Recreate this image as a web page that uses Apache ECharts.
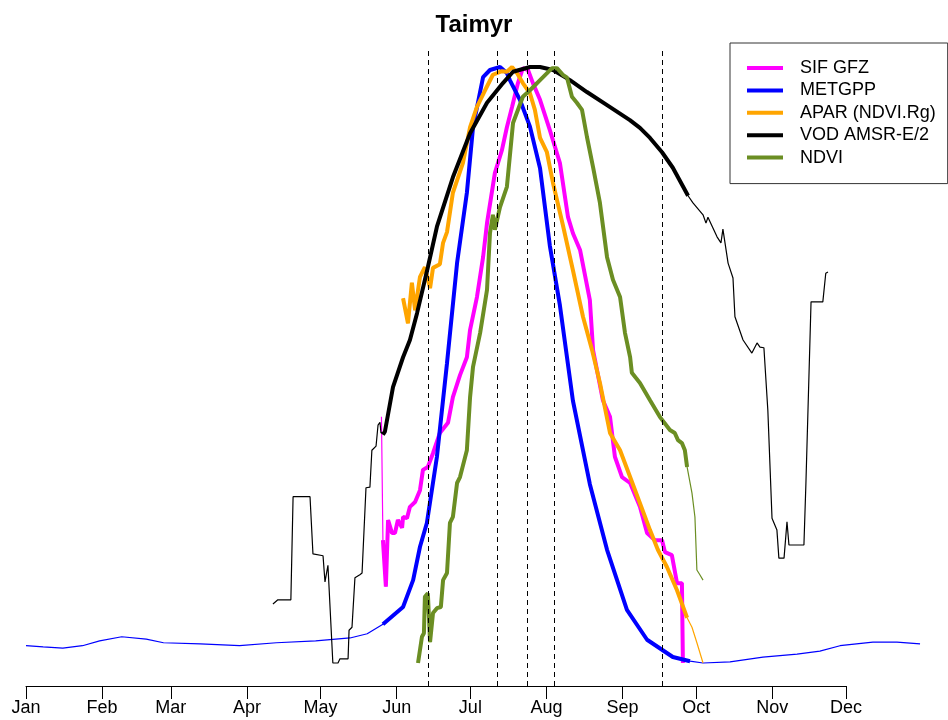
<!DOCTYPE html>
<html lang="en">
<head>
  <meta charset="UTF-8">
  <title>Taimyr</title>
  <script src="https://cdn.jsdelivr.net/npm/echarts@6/dist/echarts.min.js"></script>
  <style>html, body { margin: 0; padding: 0; background: #fff; }</style>
</head>
<body>
  <div id="chart" style="width: 948px; height: 720px;"></div>

  <script>
    // x axis: day of year
    let monthDays = [1, 32, 60, 91, 121, 152, 182, 213, 244, 274, 305, 335]
    let monthNames = ['Jan', 'Feb', 'Mar', 'Apr', 'May', 'Jun', 'Jul', 'Aug', 'Sep', 'Oct', 'Nov', 'Dec']
    let dashDays = [165, 193, 205, 216, 260]
    // growing season drawn with the thick line
    let thickWindow = [146, 271.5]

    // normalised signals, [day, value]
    let sifGfz = [[145.8,0.413],[146.4,0.206],[147.6,0.128],[148.5,0.240],[150.1,0.218],[151.3,0.218],[152.5,0.240],[154.2,0.227],[154.6,0.245],[156.2,0.243],[157.4,0.262],[159.5,0.270],[161.5,0.290],[162.7,0.324],[164.7,0.329],[166.8,0.352],[169.6,0.386],[172.9,0.403],[174.9,0.446],[177.8,0.483],[180.6,0.513],[181.9,0.559],[184.7,0.614],[187.2,0.681],[188.8,0.738],[192,0.822],[194.9,0.861],[196.9,0.899],[199,0.933],[201.4,0.973],[203.4,0.998],[205.5,0.995],[207.5,0.973],[210.4,0.945],[214.4,0.894],[218.5,0.839],[221.8,0.748],[223.8,0.721],[226.7,0.693],[230.7,0.609],[232,0.525],[236,0.441],[238.9,0.413],[240.9,0.346],[243.8,0.312],[247.1,0.302],[251.1,0.262],[254,0.218],[257.2,0.206],[260.1,0.206],[261.3,0.186],[264.1,0.181],[266.2,0.134],[268.2,0.134],[268.6,0]]
    let metGpp = [[1,0.029],[8,0.027],[16,0.025],[24,0.029],[31,0.037],[40,0.044],[50,0.040],[57,0.034],[72,0.032],[88,0.029],[103,0.034],[119,0.037],[133,0.042],[140,0.049],[146.4,0.065],[154.6,0.094],[158.7,0.139],[161.5,0.195],[164.3,0.235],[168.4,0.346],[172.5,0.503],[176.6,0.671],[180.6,0.789],[183.1,0.899],[187.2,0.983],[190,0.995],[194.1,1.0],[196.9,0.990],[198.1,0.978],[202.2,0.945],[206.3,0.90],[210.4,0.83],[214.4,0.70],[218.5,0.60],[223.8,0.44],[230.7,0.30],[237.7,0.19],[245.8,0.089],[254,0.039],[264.5,0.010],[271.5,0.003],[276.8,0],[287.8,0.002],[301.2,0.010],[315.1,0.015],[324.4,0.020],[332.6,0.029],[346,0.035],[355.8,0.035],[365.2,0.032]]
    let aparNdviRg = [[154.6,0.612],[156.6,0.570],[158.2,0.638],[159.5,0.592],[161.5,0.648],[163.5,0.664],[165.6,0.629],[166.8,0.663],[169.6,0.669],[170.9,0.705],[172.5,0.723],[174.9,0.789],[179,0.839],[181.9,0.899],[184.7,0.933],[188,0.961],[191.2,0.987],[194.9,0.993],[196.9,0.992],[199,1.0],[201,0.990],[203.4,0.973],[206.3,0.956],[208.3,0.928],[210.4,0.881],[213.2,0.857],[215.7,0.805],[219.7,0.735],[223.8,0.659],[227.9,0.581],[231.6,0.525],[234.8,0.470],[238.9,0.386],[243,0.357],[247.1,0.312],[251.1,0.268],[255.2,0.223],[258.4,0.190],[262.1,0.161],[266.2,0.122],[270.3,0.076],[272.3,0.060],[274.3,0.034],[276.8,0]]
    let vodAmsr = [[101.6,0.099],[103.6,0.106],[108.9,0.106],[109.8,0.279],[116.7,0.279],[117.9,0.183],[122,0.180],[122.8,0.136],[124,0.164],[124.8,0.163],[126,0],[128.1,0],[128.9,0.007],[132.2,0.007],[132.6,0.055],[133.8,0.060],[135,0.143],[137,0.148],[137.9,0.151],[139.5,0.294],[141.1,0.295],[141.9,0.357],[143.6,0.364],[144.4,0.399],[145.2,0.404],[145.6,0.386],[146.4,0.383],[147.2,0.388],[150.5,0.463],[154.6,0.513],[157.4,0.542],[160.3,0.587],[164.7,0.664],[168.4,0.732],[174.9,0.815],[181.9,0.889],[188.8,0.940],[195.3,0.973],[199.4,0.992],[206.3,1.0],[210.4,1.0],[215.7,0.995],[222.6,0.978],[229.5,0.958],[237.7,0.936],[247,0.911],[251.1,0.898],[255.2,0.881],[260.1,0.857],[264.5,0.831],[270.7,0.784],[272.7,0.772],[276.8,0.752],[278,0.738],[278.8,0.748],[282.5,0.715],[284.1,0.705],[284.9,0.728],[287,0.671],[289,0.646],[289.8,0.581],[293.1,0.542],[296.7,0.520],[298.8,0.537],[300,0.530],[301.6,0.529],[303.2,0.424],[304.9,0.243],[306.9,0.223],[307.7,0.176],[309.8,0.176],[311,0.237],[311.8,0.198],[317.9,0.198],[318.7,0.300],[319.5,0.302],[320.8,0.606],[325.6,0.606],[326.8,0.654],[327.7,0.656]]
    let ndvi = [[160.7,0],[162.3,0.044],[163.1,0.050],[163.5,0.111],[164.7,0.117],[165.6,0.035],[166.8,0.084],[168.4,0.092],[170,0.094],[170.9,0.139],[172.5,0.151],[173.7,0.235],[174.9,0.245],[176.6,0.302],[177.8,0.312],[180.6,0.357],[181.9,0.446],[183.1,0.497],[186,0.554],[188.8,0.626],[190,0.721],[191.2,0.752],[192,0.727],[194.1,0.765],[196.9,0.799],[199.4,0.906],[203.4,0.950],[206.3,0.961],[210.4,0.978],[215.3,0.998],[217.3,0.998],[219.7,0.987],[221.4,0.982],[223.4,0.950],[225.4,0.940],[227.5,0.928],[229.5,0.883],[232,0.832],[234.8,0.772],[237.7,0.681],[240.1,0.643],[243,0.614],[245,0.554],[247.1,0.513],[247.8,0.487],[251.1,0.470],[255.2,0.441],[259.2,0.413],[263.3,0.391],[265.3,0.386],[266.6,0.374],[268.2,0.369],[269.4,0.357],[270.3,0.329],[272.3,0.285],[273.5,0.245],[274.3,0.156],[275.5,0.148],[276.8,0.139]]

    let signals = [
      { name: 'SIF GFZ', color: '#ff00ff', data: sifGfz },
      { name: 'METGPP', color: '#0000ff', data: metGpp },
      { name: 'APAR (NDVI.Rg)', color: '#ffa500', data: aparNdviRg },
      { name: 'VOD AMSR-E/2', color: '#000000', data: vodAmsr },
      { name: 'NDVI', color: '#6b8e23', data: ndvi }
    ]

    let font = '"Liberation Sans", Arial, Helvetica, sans-serif'
    let yMin = -0.0386
    let yMax = 1.0319
    let series = []
    signals.forEach(s => {
      // thin line: the whole record
      series.push({
        name: s.name + ' (all)',
        type: 'line',
        xAxisIndex: 1,
        yAxisIndex: 1,
        data: s.data,
        symbol: 'none',
        color: s.color,
        lineStyle: { color: s.color, width: 1.2 }
      })
      // thick line: growing season only
      series.push({
        name: s.name,
        type: 'line',
        xAxisIndex: 1,
        yAxisIndex: 1,
        data: s.data.filter(p => p[0] >= thickWindow[0] && p[0] <= thickWindow[1]),
        symbol: 'none',
        clip: false,
        color: s.color,
        lineStyle: { color: s.color, width: 4 }
      })
    })
    //vertical dashed lines
    series.push({
      name: 'dates',
      type: 'line',
      xAxisIndex: 0,
      yAxisIndex: 0,
      data: [],
      markLine: {
        silent: true,
        symbol: ['none', 'none'],
        label: { show: false },
        lineStyle: { color: '#000', width: 1, type: [5, 4] },
        data: dashDays.map(d => ({ xAxis: d }))
      }
    })

    let myChart = echarts.init(document.querySelector('#chart'))
    myChart.setOption({
      animation: false,
      textStyle: { fontFamily: font },
      title: {
        text: 'Taimyr',
        left: 'center',
        top: 8,
        textStyle: { fontFamily: font, fontSize: 24, fontWeight: 'bold', color: '#000' }
      },
      legend: {
        data: signals.map(s => ({ name: s.name, icon: 'rect' })),
        orient: 'vertical',
        left: 730,
        top: 43,
        padding: [16, 12, 17, 17],
        borderColor: '#333',
        borderWidth: 1,
        itemWidth: 36,
        itemHeight: 4,
        itemGap: 4.4,
        selectedMode: false,
        textStyle: { fontFamily: font, fontSize: 18, color: '#000', lineHeight: 18, padding: [0, 0, 0, 12] }
      },
      // grid 0: visible month axis (Jan..Dec), grid 1: whole year of data
      grid: [
        { left: 26, right: 102, top: 48, bottom: 34 },
        { left: 26, right: 26, top: 48, bottom: 34 }
      ],
      xAxis: [{
        type: 'value',
        gridIndex: 0,
        min: 1,
        max: 335,
        splitLine: { show: false },
        axisLine: { onZero: false, lineStyle: { color: '#000', width: 1 } },
        axisTick: { customValues: monthDays, length: 13, lineStyle: { color: '#000' } },
        axisLabel: {
          customValues: monthDays,
          formatter: v => monthNames[monthDays.indexOf(v)],
          fontFamily: font,
          fontSize: 18,
          color: '#000',
          margin: 13
        }
      }, {
        type: 'value',
        gridIndex: 1,
        min: 1,
        max: 366,
        show: false,
        splitLine: { show: false }
      }],
      yAxis: [{
        type: 'value',
        gridIndex: 0,
        show: false,
        min: yMin,
        max: yMax,
        splitLine: { show: false }
      }, {
        type: 'value',
        gridIndex: 1,
        show: false,
        min: yMin,
        max: yMax,
        splitLine: { show: false }
      }],
      series: series
    })
  </script>
</body>
</html>
